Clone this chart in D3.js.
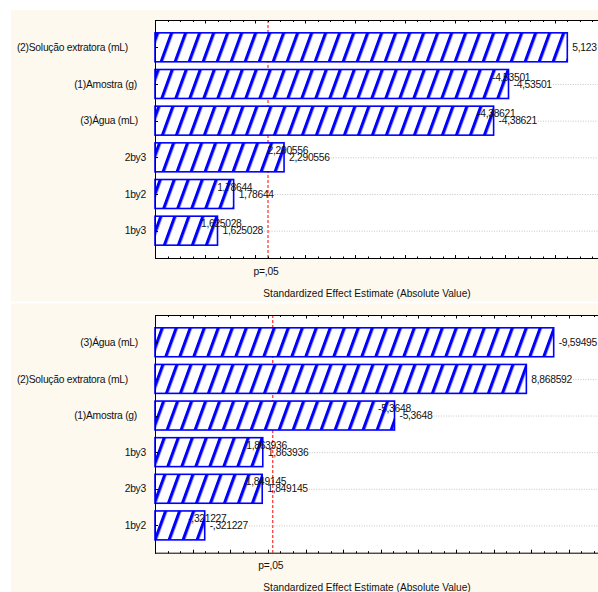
<!DOCTYPE html>
<html><head><meta charset="utf-8">
<script src="https://cdn.jsdelivr.net/npm/d3@7"></script>
<style>
body{margin:0;background:#fff;}
svg text{font-family:"Liberation Sans",Arial,sans-serif;fill:#111;}
</style>
</head><body>
<svg id="chart" width="598" height="592"></svg>
<script>
// ---------- data ----------
const topCategories = ["(2)Solução extratora (mL)", "(1)Amostra (g)", "(3)Água (mL)", "2by3", "1by2", "1by3"];
const topEffects = [5.123, -4.53501, -4.38621, 2.290556, 1.78644, 1.625028];
const topLabels = ["5,123", "-4,53501", "-4,38621", "2,290556", "1,78644", "1,625028"];
const topDoubleLabel = [false, true, true, true, true, true];

const bottomCategories = ["(3)Água (mL)", "(2)Solução extratora (mL)", "(1)Amostra (g)", "1by3", "2by3", "1by2"];
const bottomEffects = [-9.59495, 8.868592, -5.3648, 1.863936, 1.849145, -0.321227];
const bottomLabels = ["-9,59495", "8,868592", "-5,3648", "1,863936", "1,849145", "-,321227"];
const bottomDoubleLabel = [false, false, true, true, true, true];

const pCritical = 2.13;
const pLabel = "p=,05";
const axisTitle = "Standardized Effect Estimate (Absolute Value)";

// ---------- drawing ----------
const W = 598, H = 592;
const svg = d3.select("#chart");
const defs = svg.append("defs");
const pat = defs.append("pattern").attr("id", "hatch")
  .attr("patternUnits", "userSpaceOnUse").attr("width", 14).attr("height", 20)
  .attr("patternTransform", "skewX(-20)");
pat.append("rect").attr("width", 14).attr("height", 20).attr("fill", "#fff");
pat.append("rect").attr("width", 3.4).attr("height", 20).attr("fill", "#0000ff");

const labelShift = {"(2)Solução extratora (mL)": -18, "(1)Amostra (g)": -9, "(3)Água (mL)": -8};

const panels = [
  {cats: topCategories, eff: topEffects, labels: topLabels, dbl: topDoubleLabel,
   bgTop: 10, bgBottom: 301.5, plotTop: 20, plotBottom: 258,
   domain: [1, 5.65], major: 0.5, minorDiv: 4},
  {cats: bottomCategories, eff: bottomEffects, labels: bottomLabels, dbl: bottomDoubleLabel,
   bgTop: 303.5, bgBottom: 592, plotTop: 315, plotBottom: 552.7,
   domain: [-1, 11.357], major: 1, minorDiv: 3}
];

const plotLeft = 155, plotRight = 620;

panels.forEach(p => {
  const g = svg.append("g");
  g.append("rect").attr("x", 11).attr("y", p.bgTop).attr("width", W - 11)
    .attr("height", p.bgBottom - p.bgTop).attr("fill", "#fdf9ef");
  g.append("rect").attr("x", plotLeft).attr("y", p.plotTop).attr("width", plotRight - plotLeft)
    .attr("height", p.plotBottom - p.plotTop).attr("fill", "#fff");

  const x = d3.scaleLinear().domain(p.domain).range([plotLeft, plotRight]);
  const y = d3.scaleBand().domain(p.cats).range([p.plotTop, p.plotBottom])
    .paddingInner(0.21).paddingOuter(0.35);

  // p line
  g.append("line").attr("x1", x(pCritical)).attr("x2", x(pCritical))
    .attr("y1", p.plotTop).attr("y2", p.plotBottom)
    .attr("stroke", "#ff0000").attr("stroke-width", 1).attr("stroke-dasharray", "3,2");

  const data = p.cats.map((c, i) => ({c, v: Math.abs(p.eff[i]), lab: p.labels[i], dbl: p.dbl[i]}));

  // dotted leader lines + outer labels
  data.forEach(d => {
    const cy = y(d.c) + y.bandwidth() / 2;
    const xe = x(d.v);
    const t2 = g.append("text").attr("x", xe + 5).attr("y", cy).attr("dy", "0.35em")
      .attr("font-size", 10.3).attr("letter-spacing", -0.3).text(d.lab);
    const len = t2.node().getComputedTextLength();
    const sx = xe + 5 + len + 1;
    if (sx < W) {
      g.append("line").attr("x1", sx).attr("x2", W).attr("y1", cy + 0.5).attr("y2", cy + 0.5)
        .attr("stroke", "#c4c4c4").attr("stroke-width", 1).attr("stroke-dasharray", "1,1.5");
    }
  });

  // bars
  g.selectAll("rect.bar").data(data).join("rect").attr("class", "bar")
    .attr("x", plotLeft).attr("y", d => y(d.c))
    .attr("width", d => x(d.v) - plotLeft).attr("height", y.bandwidth())
    .attr("fill", "url(#hatch)").attr("stroke", "#0000ff").attr("stroke-width", 1.6);

  // inner (overlapping) labels, as in the original
  data.filter(d => d.dbl).forEach(d => {
    const cy = y(d.c) + y.bandwidth() / 2;
    g.append("text").attr("x", x(d.v) - 16.5).attr("y", cy - 7).attr("dy", "0.35em")
      .attr("font-size", 10.3).attr("letter-spacing", -0.3).text(d.lab);
  });

  // category labels
  data.forEach(d => {
    const cy = y(d.c) + y.bandwidth() / 2;
    g.append("text").attr("x", 146 + (labelShift[d.c] || 0)).attr("y", cy).attr("dy", "0.35em")
      .attr("text-anchor", "end").attr("font-size", 10.3).attr("letter-spacing", -0.25).text(d.c);
  });

  // frame
  g.append("line").attr("x1", plotLeft).attr("x2", W).attr("y1", p.plotTop + 0.5).attr("y2", p.plotTop + 0.5).attr("stroke", "#000");
  g.append("line").attr("x1", plotLeft).attr("x2", W).attr("y1", p.plotBottom + 0.5).attr("y2", p.plotBottom + 0.5).attr("stroke", "#000");
  g.append("line").attr("x1", plotLeft + 0.5).attr("x2", plotLeft + 0.5).attr("y1", p.plotTop).attr("y2", p.plotBottom + 1).attr("stroke", "#000");

  // ticks top & bottom
  const step = p.major / p.minorDiv;
  const ticks = d3.range(0, Math.round((p.domain[1] - p.domain[0]) / step) + 1)
    .map(k => ({v: p.domain[0] + k * step, major: k % p.minorDiv === 0}));
  ticks.forEach(t => {
    const tx = Math.round(x(t.v)) + 0.5;
    if (tx > W) return;
    const len = t.major ? 3 : 1.5;
    g.append("line").attr("x1", tx).attr("x2", tx).attr("y1", p.plotTop).attr("y2", p.plotTop + len + 0.5).attr("stroke", "#000");
    g.append("line").attr("x1", tx).attr("x2", tx).attr("y1", p.plotBottom + 0.5).attr("y2", p.plotBottom - len).attr("stroke", "#000");
  });
  // left ticks at category centres
  p.cats.forEach(c => {
    const cy = Math.round(y(c) + y.bandwidth() / 2) + 0.5;
    g.append("line").attr("x1", plotLeft).attr("x2", plotLeft + 3).attr("y1", cy).attr("y2", cy).attr("stroke", "#000");
  });

  // axis texts
  g.append("text").attr("x", x(pCritical) - 2).attr("y", p.plotBottom + 13).attr("dy", "0.35em")
    .attr("text-anchor", "middle").attr("font-size", 10.3).attr("letter-spacing", -0.2).text(pLabel);
  g.append("text").attr("x", 367).attr("y", p.plotBottom + 35).attr("dy", "0.35em")
    .attr("text-anchor", "middle").attr("font-size", 10.15).text(axisTitle);
});
</script>
</body></html>
